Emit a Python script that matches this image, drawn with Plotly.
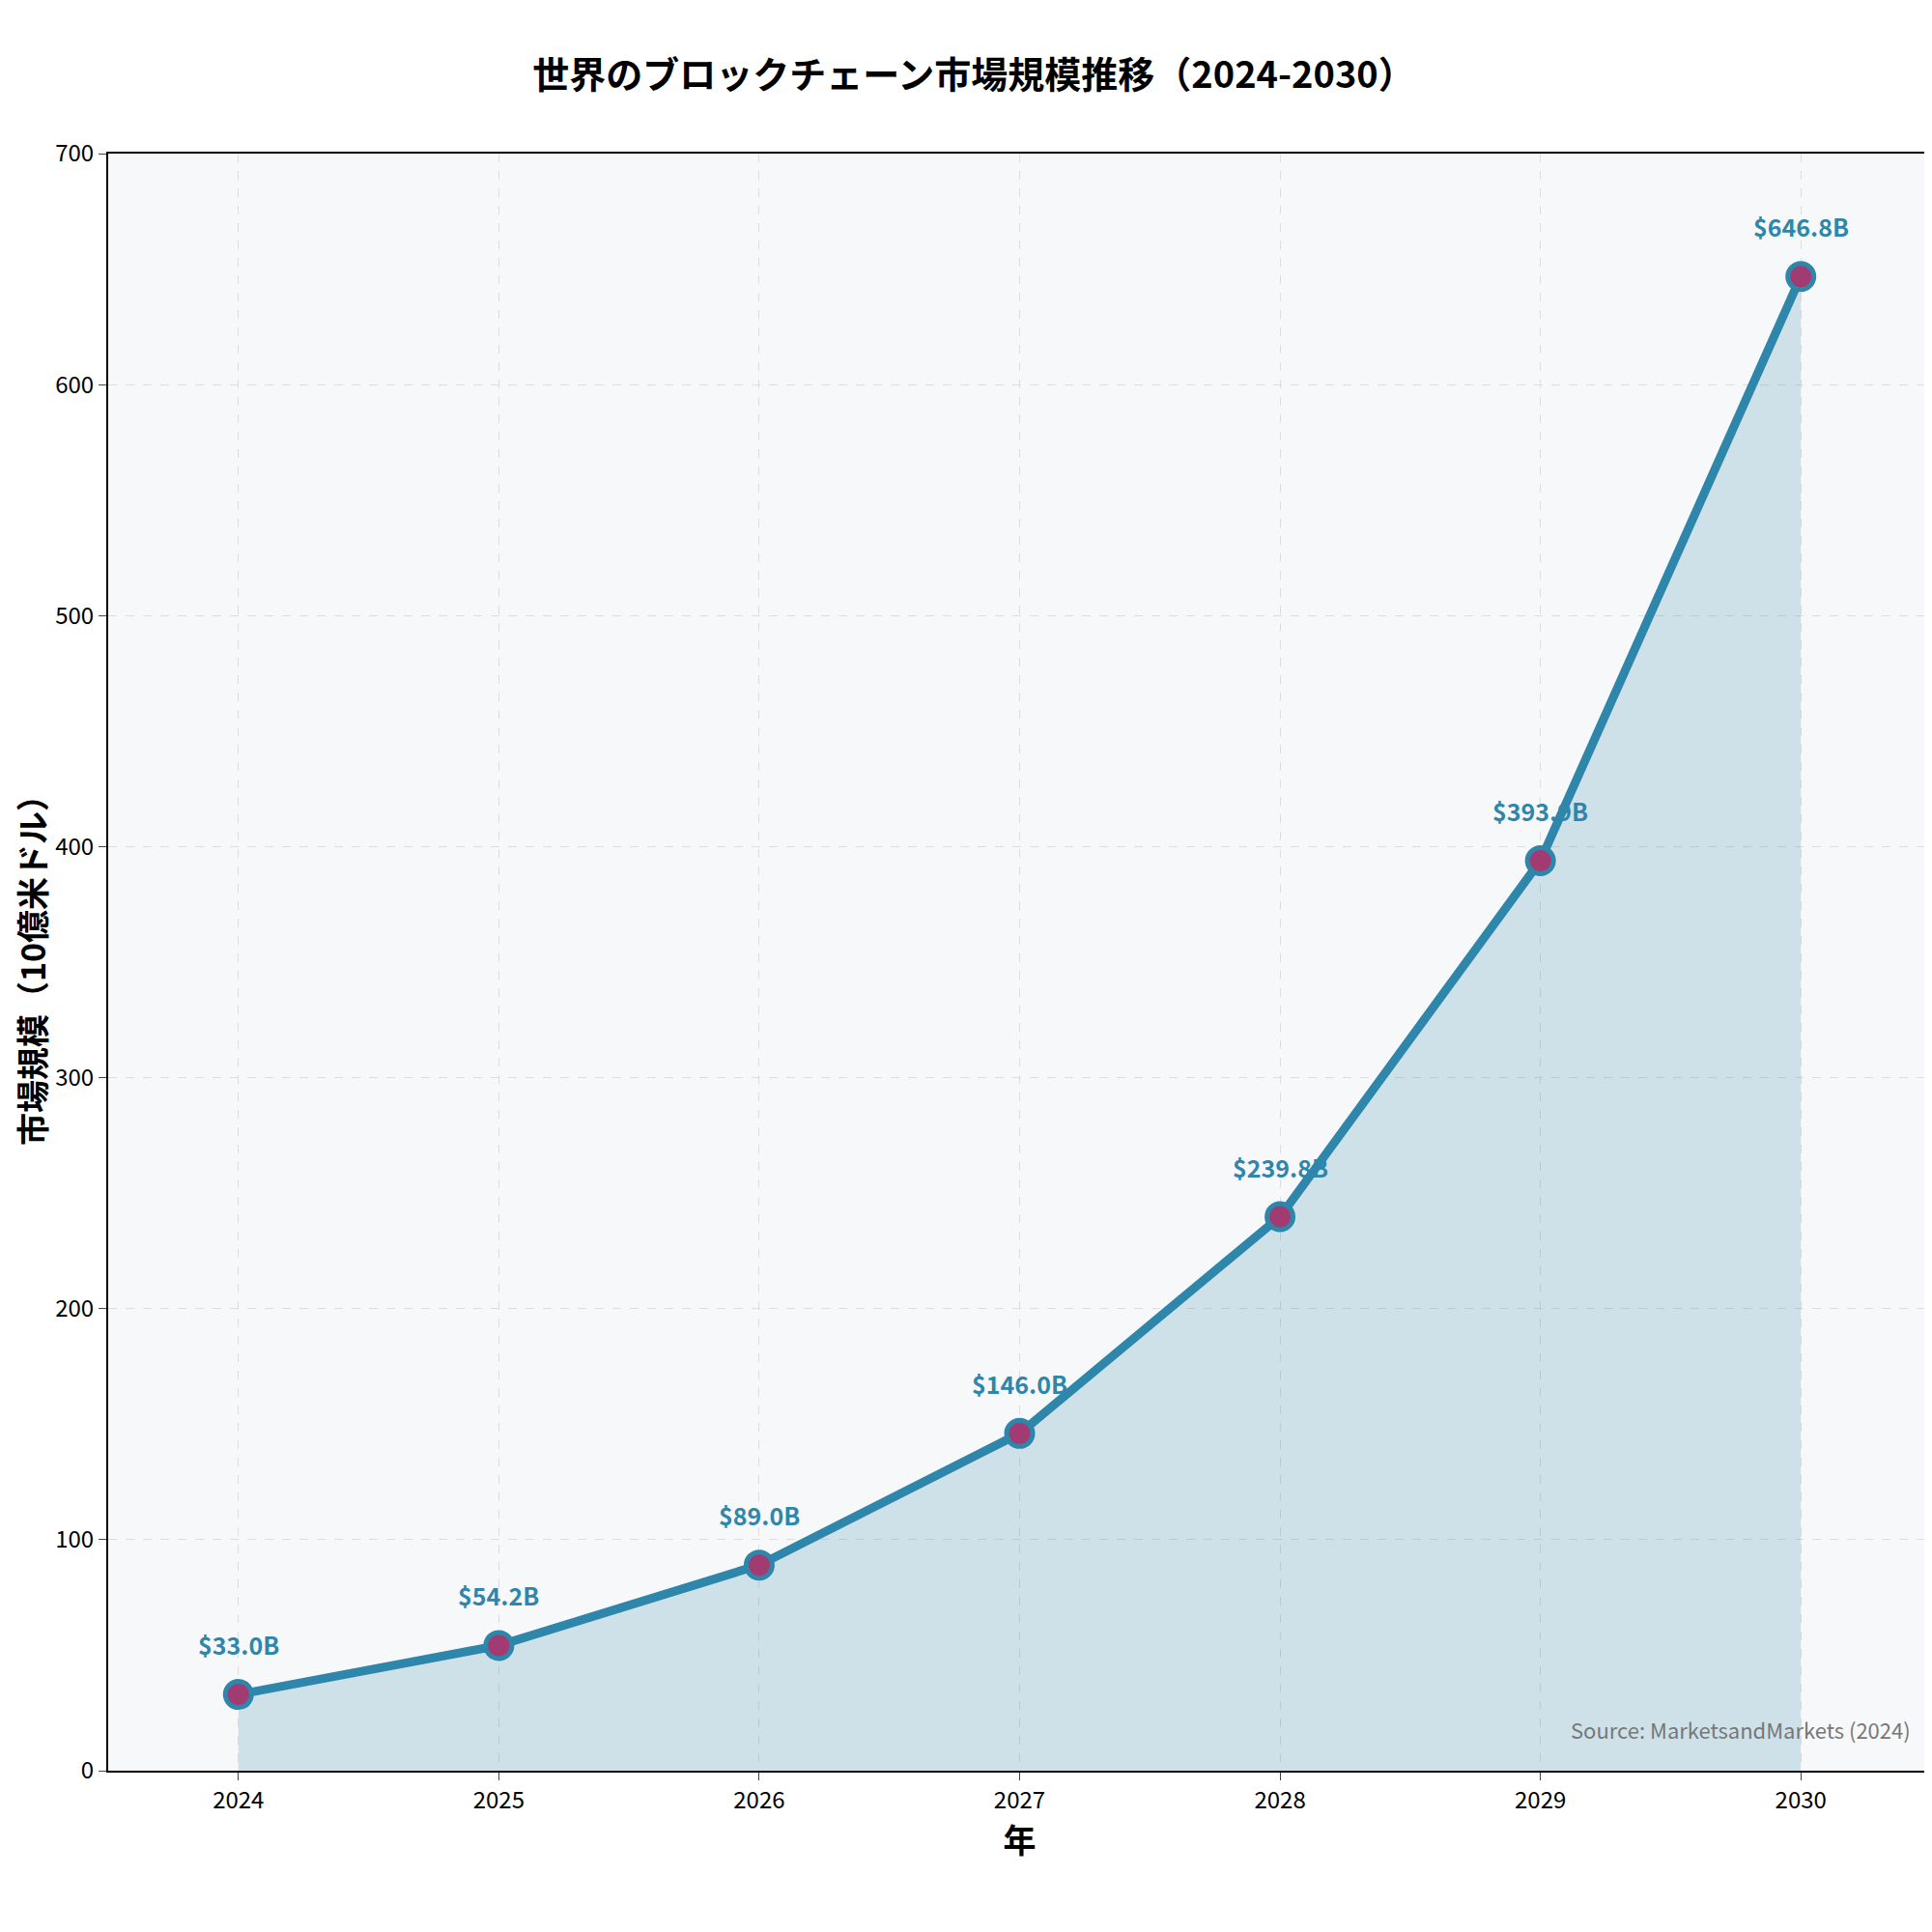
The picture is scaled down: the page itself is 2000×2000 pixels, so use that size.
import plotly.graph_objects as go

years = [2024, 2025, 2026, 2027, 2028, 2029, 2030]
values = [33.0, 54.2, 89.0, 146.0, 239.8, 393.9, 646.8]
labels = [f"${v:.1f}B" for v in values]

F = "Noto Sans CJK JP"
fig = go.Figure()
fig.add_trace(go.Scatter(x=years, y=values, fill="tozeroy", fillcolor="rgba(46,134,171,0.2)",
                         mode="lines", line=dict(color="#2E86AB", width=0), hoverinfo="skip", showlegend=False))
fig.add_trace(go.Scatter(x=years, y=values, mode="lines+markers",
                         line=dict(color="#2E86AB", width=9),
                         marker=dict(size=27, color="#A23B72", line=dict(color="#2E86AB", width=5)),
                         showlegend=False))
for x, y, t in zip(years, values, labels):
    fig.add_annotation(x=x, y=y, text=f"<b>{t}</b>", showarrow=False, yshift=52,
                       font=dict(family=F, size=25, color="#2E86AB"))
fig.add_annotation(text="Source: MarketsandMarkets (2024)", xref="paper", yref="paper", x=0.99, y=0.015,
                   xanchor="right", yanchor="bottom", showarrow=False, font=dict(family=F, size=22, color="#777777"))
fig.update_layout(
    width=2000, height=2000, paper_bgcolor="white", plot_bgcolor="#F7F8F9",
    margin=dict(l=104, r=7, t=151, b=175),
    title=dict(text="<b>世界のブロックチェーン市場規模推移（2024-2030）</b>", x=0.5, xanchor="center", y=0.972,
               font=dict(family=F, size=38, color="black")),
    font=dict(family=F, size=24, color="black"),
)
fig.update_xaxes(range=[2023.5, 2030.5], tickvals=years, ticks="outside", ticklen=8,
                 showline=True, linecolor="black", linewidth=2, mirror=True,
                 showgrid=True, gridcolor="#DDDDDD", griddash="dash",
                 title=dict(text="<b>年</b>", font=dict(size=34)), zeroline=False)
fig.update_yaxes(range=[0, 700], dtick=100, ticks="outside", ticklen=8,
                 showline=True, linecolor="black", linewidth=2, mirror=True,
                 showgrid=True, gridcolor="#DDDDDD", griddash="dash",
                 title=dict(text="<b>市場規模（10億米ドル）</b>", font=dict(size=34)), zeroline=False)
fig.write_html("out.html")
